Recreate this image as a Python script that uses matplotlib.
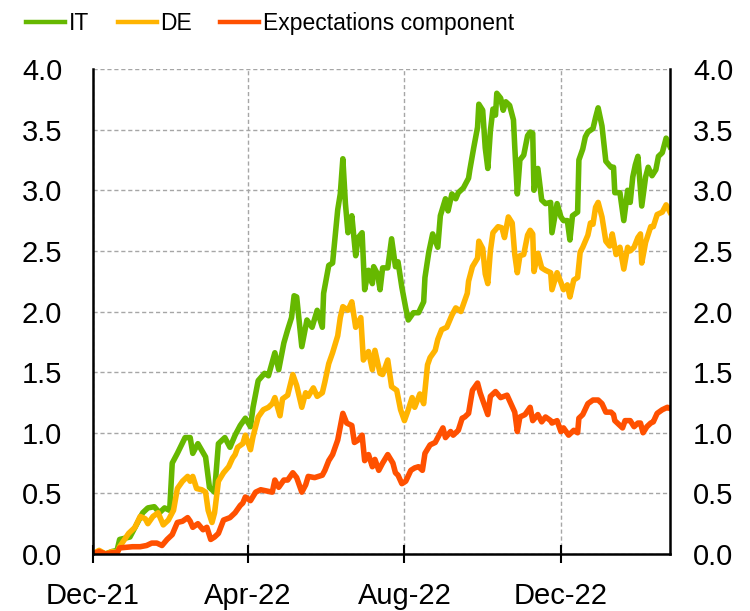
import numpy as np
import pandas as pd
import matplotlib
matplotlib.use("Agg")
from matplotlib import pyplot as plt
import matplotlib.dates as mdates

# days counted from 1 Dec 2021
it_days = [0, 5, 10, 15, 19, 21, 29, 39, 43, 48, 52, 56, 60, 62, 66, 72, 76, 78, 82, 88, 91, 95,
           98, 103, 107, 111, 115, 119, 123, 125, 129, 134, 137, 142, 145, 149, 152, 155, 157, 159,
           163, 167, 171, 175, 179, 180, 184, 187, 191, 193, 195, 197, 199, 202, 205, 207, 210, 212,
           215, 218, 219, 222, 224, 226, 230, 233, 236, 238, 241, 244, 246, 250, 254, 258, 259, 262,
           265, 269, 271, 275, 277, 280, 283, 285, 289, 293, 294, 297, 300, 301, 304, 306, 308, 310,
           312, 314, 315, 318, 320, 322, 325, 328, 329, 331, 333, 336, 339, 341, 343, 344, 347, 350,
           353, 357, 358, 362, 365, 367, 370, 372, 374, 378, 379, 382, 384, 386, 390, 392, 394, 397,
           400, 404, 406, 407, 411, 414, 417, 419, 421, 423, 425, 428, 431, 433, 436, 439, 441, 444,
           447, 450]
it_vals = [0.00, 0.02, 0.00, 0.02, 0.03, 0.12, 0.14, 0.34, 0.38, 0.39, 0.34, 0.38, 0.36, 0.75, 0.83,
           0.96, 0.96, 0.83, 0.91, 0.80, 0.55, 0.51, 0.91, 0.96, 0.88, 0.98, 1.06, 1.12, 1.05, 1.21,
           1.43, 1.49, 1.47, 1.66, 1.52, 1.74, 1.85, 1.95, 2.13, 2.12, 1.71, 1.93, 1.87, 2.01, 1.87,
           2.15, 2.38, 2.40, 2.84, 2.97, 3.26, 2.89, 2.65, 2.79, 2.46, 2.61, 2.65, 2.18, 2.34, 2.23,
           2.37, 2.31, 2.18, 2.36, 2.36, 2.60, 2.37, 2.41, 2.20, 2.03, 1.93, 1.99, 1.99, 2.08, 2.28,
           2.49, 2.64, 2.53, 2.79, 2.93, 2.83, 2.97, 2.93, 2.98, 3.02, 3.10, 3.17, 3.35, 3.52, 3.71,
           3.66, 3.35, 3.18, 3.49, 3.67, 3.62, 3.80, 3.76, 3.66, 3.73, 3.70, 3.58, 3.36, 2.97, 3.25,
           3.29, 3.45, 3.48, 3.47, 3.00, 3.18, 2.92, 2.89, 2.90, 2.65, 2.89, 2.78, 2.75, 2.75, 2.59,
           2.79, 2.82, 3.25, 3.34, 3.44, 3.48, 3.51, 3.60, 3.68, 3.53, 3.24, 3.19, 3.19, 2.98, 2.98,
           2.75, 3.00, 2.90, 3.11, 3.21, 3.28, 2.87, 3.11, 3.19, 3.12, 3.17, 3.28, 3.31, 3.43, 3.36]

de_days = [0, 5, 10, 15, 19, 21, 28, 33, 37, 41, 43, 47, 51, 55, 59, 63, 66, 70, 74, 76, 78, 81, 85,
           88, 90, 93, 95, 98, 102, 106, 109, 111, 113, 117, 119, 123, 125, 129, 133, 137, 140, 142,
           146, 148, 152, 156, 159, 163, 166, 168, 172, 175, 179, 181, 184, 187, 191, 193, 195, 199,
           202, 205, 209, 211, 215, 218, 220, 224, 226, 230, 233, 237, 240, 243, 246, 249, 251, 255,
           258, 261, 263, 267, 269, 272, 276, 280, 283, 287, 290, 292, 293, 296, 300, 301, 304, 306,
           308, 310, 312, 316, 319, 321, 324, 327, 329, 331, 333, 336, 339, 341, 343, 344, 347, 350,
           353, 357, 358, 362, 365, 367, 370, 372, 375, 378, 380, 382, 386, 388, 390, 392, 394, 397,
           400, 403, 405, 408, 411, 414, 417, 419, 422, 425, 427, 428, 431, 435, 437, 440, 444, 447,
           450]
de_vals = [0.00, 0.03, 0.00, 0.02, 0.01, 0.06, 0.17, 0.22, 0.31, 0.29, 0.25, 0.31, 0.34, 0.24, 0.28,
           0.36, 0.54, 0.60, 0.64, 0.60, 0.64, 0.54, 0.53, 0.51, 0.36, 0.26, 0.34, 0.60, 0.67, 0.72,
           0.79, 0.82, 0.88, 0.91, 0.98, 0.86, 0.97, 1.13, 1.19, 1.21, 1.24, 1.29, 1.14, 1.28, 1.31,
           1.48, 1.39, 1.21, 1.33, 1.30, 1.37, 1.30, 1.33, 1.42, 1.57, 1.66, 1.80, 1.95, 2.04, 2.01,
           2.08, 1.87, 1.95, 1.60, 1.67, 1.52, 1.68, 1.49, 1.48, 1.60, 1.38, 1.35, 1.19, 1.10, 1.19,
           1.29, 1.21, 1.32, 1.24, 1.56, 1.62, 1.68, 1.77, 1.85, 1.87, 1.97, 2.03, 2.00, 2.09, 2.15,
           2.25, 2.37, 2.44, 2.58, 2.52, 2.31, 2.23, 2.50, 2.65, 2.70, 2.69, 2.61, 2.78, 2.73, 2.47,
           2.32, 2.46, 2.47, 2.63, 2.67, 2.64, 2.33, 2.48, 2.36, 2.34, 2.32, 2.18, 2.32, 2.24, 2.18,
           2.22, 2.12, 2.26, 2.28, 2.49, 2.53, 2.63, 2.73, 2.72, 2.86, 2.90, 2.78, 2.58, 2.54, 2.64,
           2.47, 2.53, 2.35, 2.53, 2.50, 2.53, 2.61, 2.64, 2.40, 2.57, 2.70, 2.70, 2.80, 2.82, 2.88,
           2.82]

exp_days = [0, 5, 10, 15, 19, 21, 31, 37, 42, 46, 50, 54, 58, 62, 66, 70, 74, 76, 78, 82, 86, 89,
            92, 95, 98, 102, 107, 111, 115, 117, 119, 123, 127, 131, 140, 142, 145, 149, 152, 156,
            159, 163, 166, 168, 173, 179, 181, 184, 187, 191, 193, 195, 198, 202, 204, 207, 210, 212,
            215, 218, 220, 223, 226, 230, 234, 236, 238, 241, 244, 248, 251, 254, 257, 259, 263, 267,
            269, 273, 275, 279, 281, 285, 288, 290, 293, 296, 300, 302, 308, 310, 314, 318, 323, 326,
            329, 331, 333, 337, 341, 343, 347, 350, 353, 357, 358, 362, 365, 367, 371, 375, 378, 379,
            382, 386, 390, 394, 397, 400, 404, 406, 407, 411, 413, 415, 419, 422, 425, 427, 429, 432,
            435, 437, 440, 444, 448, 450]
exp_vals = [0.00, 0.02, 0.00, 0.01, 0.01, 0.05, 0.06, 0.06, 0.07, 0.09, 0.09, 0.07, 0.12, 0.16, 0.26,
            0.27, 0.30, 0.27, 0.22, 0.25, 0.20, 0.22, 0.12, 0.14, 0.17, 0.28, 0.30, 0.34, 0.40, 0.42,
            0.47, 0.44, 0.51, 0.53, 0.51, 0.61, 0.55, 0.61, 0.61, 0.67, 0.63, 0.51, 0.57, 0.64, 0.63,
            0.65, 0.69, 0.77, 0.82, 0.94, 1.05, 1.16, 1.08, 1.06, 0.92, 0.94, 0.98, 0.77, 0.82, 0.72,
            0.78, 0.69, 0.75, 0.82, 0.75, 0.67, 0.65, 0.58, 0.60, 0.69, 0.71, 0.72, 0.69, 0.83, 0.90,
            0.92, 0.96, 1.04, 0.96, 1.01, 0.98, 1.02, 1.12, 1.13, 1.16, 1.35, 1.41, 1.33, 1.15, 1.30,
            1.34, 1.29, 1.31, 1.24, 1.17, 1.01, 1.13, 1.15, 1.21, 1.10, 1.15, 1.09, 1.13, 1.10, 1.08,
            1.10, 1.01, 1.04, 0.98, 1.02, 1.00, 1.12, 1.15, 1.24, 1.27, 1.27, 1.24, 1.17, 1.17, 1.15,
            1.10, 1.06, 1.04, 1.10, 1.10, 1.05, 1.08, 1.08, 1.00, 1.05, 1.08, 1.09, 1.16, 1.19, 1.21,
            1.20]

tick_dates = ["2021-12-01", "2022-04-01", "2022-08-01", "2022-12-01"]
y_ticks = [0.0, 0.5, 1.0, 1.5, 2.0, 2.5, 3.0, 3.5, 4.0]

start = pd.Timestamp("2021-12-01")
def to_dates(days):
    return start + pd.to_timedelta(days, unit="D")

plt.rcParams["font.family"] = ["Liberation Sans", "DejaVu Sans"]
fs = 21

fig = plt.figure(figsize=(7.5, 6.11), dpi=100)
ax = fig.add_axes([0.1236, 0.0933, 0.7697, 0.7937])

lw = 4.0
ax.plot(to_dates(it_days), it_vals, color="#66b800", lw=lw, label="IT", solid_joinstyle="round")
ax.plot(to_dates(de_days), de_vals, color="#ffb400", lw=lw, label="DE", solid_joinstyle="round")
ax.plot(to_dates(exp_days), exp_vals, color="#ff5000", lw=lw, label="Expectations component",
        solid_joinstyle="round")

ax.set_xlim(start, start + pd.Timedelta(days=450))
ax.set_ylim(0, 4.0)
ax.set_xticks(pd.to_datetime(tick_dates))
ax.xaxis.set_major_formatter(mdates.DateFormatter("%b-%y"))
ax.set_yticks(y_ticks)
ax.set_yticklabels([f"{v:.1f}" for v in y_ticks])

ax.grid(True, color="#a6a6a6", linestyle=(0, (3, 2)), linewidth=1.0)
ax.set_axisbelow(True)
ax.spines["top"].set_visible(False)
for s in ["left", "right", "bottom"]:
    ax.spines[s].set_linewidth(1.8)
    ax.spines[s].set_color("black")

ax.tick_params(axis="x", direction="inout", length=12.5, width=1.5, labelsize=fs, pad=14)
ax.tick_params(axis="y", length=0, labelsize=fs, pad=22)

ax2 = ax.twinx()
ax2.set_ylim(0, 4.0)
ax2.set_yticks(y_ticks)
ax2.set_yticklabels([f"{v:.1f}" for v in y_ticks])
ax2.tick_params(axis="y", length=0, labelsize=fs, pad=16.5)
for s in ax2.spines.values():
    s.set_visible(False)

leg = fig.legend(loc="center", bbox_to_anchor=(0.36, 0.962), ncol=3, frameon=False,
                 fontsize=16.5, handlelength=1.7, handletextpad=0.14, columnspacing=1.26,
                 borderpad=0)
for h in leg.get_lines():
    h.set_linewidth(3.2)

fig.savefig("out.png", dpi=100)
